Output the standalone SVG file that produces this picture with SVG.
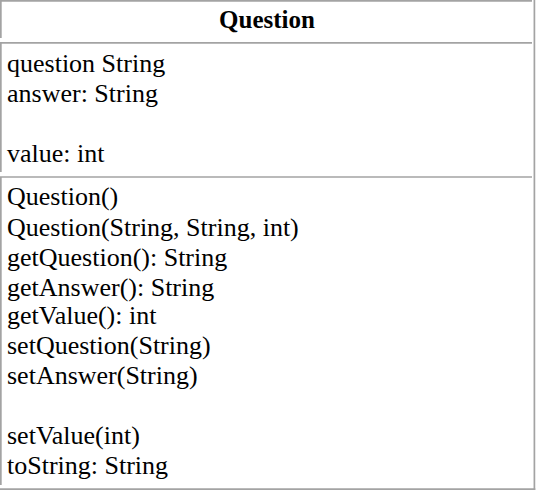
<svg xmlns="http://www.w3.org/2000/svg" width="538" height="494" viewBox="0 0 538 494">
<style>
.b{stroke:#a3a3a3;stroke-width:1.7;fill:none}
.t{font-family:"Liberation Serif","Times New Roman",serif;font-size:26px;fill:#000}
.h{font-family:"Liberation Serif","Times New Roman",serif;font-size:25px;font-weight:bold;fill:#000}
</style>
<rect width="538" height="494" fill="#fff"/>
<g id="frame">
<line class="b" x1="0" y1="0.85" x2="532" y2="0.85"/>
<line class="b" x1="0" y1="42.8" x2="532" y2="42.8"/>
<line class="b" x1="0" y1="177" x2="532" y2="177"/>
<line class="b" x1="0" y1="489.2" x2="535.3" y2="489.2"/>
<line class="b" x1="534.4" y1="0" x2="534.4" y2="490"/>
<line class="b" x1="0.85" y1="0" x2="0.85" y2="38"/>
<line class="b" x1="0.85" y1="42" x2="0.85" y2="172"/>
<line class="b" x1="0.85" y1="177" x2="0.85" y2="485"/>
</g>
<g id="title">
<text class="h" x="267" y="28" text-anchor="middle">Question</text>
</g>
<g id="attributes">
<text class="t" x="7" y="72">question String</text>
<text class="t" x="7" y="102">answer: String</text>
<text class="t" x="7" y="162">value: int</text>
</g>
<g id="methods">
<text class="t" x="7" y="205">Question()</text>
<text class="t" x="7" y="236">Question(String, String, int)</text>
<text class="t" x="7" y="266">getQuestion(): String</text>
<text class="t" x="7" y="296">getAnswer(): String</text>
<text class="t" x="7" y="324">getValue(): int</text>
<text class="t" x="7" y="354">setQuestion(String)</text>
<text class="t" x="7" y="384">setAnswer(String)</text>
<text class="t" x="7" y="444">setValue(int)</text>
<text class="t" x="7" y="474">toString: String</text>
</g>
</svg>
